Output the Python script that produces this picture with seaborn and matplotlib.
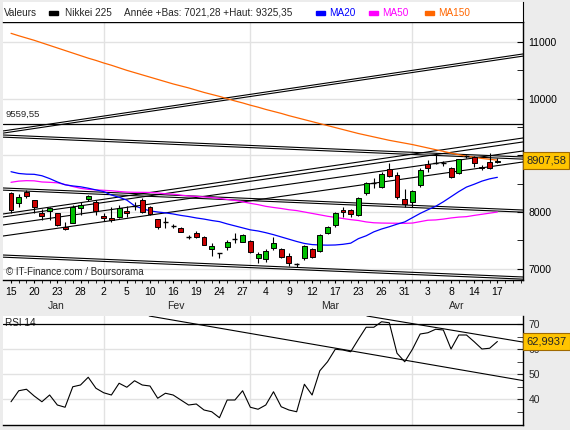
import matplotlib
matplotlib.use("Agg")
import matplotlib.pyplot as plt  # noqa: E402
import matplotlib.transforms as mtransforms  # noqa: E402
from matplotlib.patches import Rectangle  # noqa: E402
import pandas as pd  # noqa: E402
import seaborn as sns  # noqa: E402

# --- données (Nikkei 225, 2009) ---
dates = (["2009-01-%02d" % d for d in [15, 16, 19, 20, 21, 22, 23, 26, 27, 28, 29, 30]]
         + ["2009-02-%02d" % d for d in [2, 3, 4, 5, 6, 9, 10, 12, 13, 16, 17, 18, 19, 20,
                                         23, 24, 25, 26, 27]]
         + ["2009-03-%02d" % d for d in [2, 3, 4, 5, 6, 9, 10, 11, 12, 13, 16, 17, 18, 19,
                                         23, 24, 25, 26, 27, 30, 31]]
         + ["2009-04-%02d" % d for d in [1, 2, 3, 6, 7, 8, 9, 10, 14, 15, 16, 17]])
month_names = {1: "Jan", 2: "Fev", 3: "Mar", 4: "Avr"}

opens = [8330, 8160, 8350, 8210, 7977, 8018, 7980, 7740, 7806, 8070, 8229, 8182, 7935, 7900,
         7917, 8018, 8095, 8212, 8083, 7870, 7810, 7752, 7712, 7562, 7624, 7565, 7342, 7280,
         7388, 7515, 7476, 7488, 7194, 7165, 7359, 7341, 7223, 7075, 7183, 7347, 7318, 7635,
         7770, 8035, 8035, 7947, 8341, 8514, 8447, 8753, 8653, 8224, 8182, 8476, 8847, 8867,
         8870, 8776, 8683, 8985, 8965, 8800, 8877, 8877]
highs = [8345, 8320, 8380, 8215, 8050, 8090, 7990, 7830, 8125, 8180, 8300, 8210, 7990, 8090,
         8130, 8100, 8180, 8250, 8100, 7880, 7910, 7790, 7740, 7600, 7660, 7575, 7455, 7285,
         7505, 7630, 7620, 7500, 7300, 7345, 7565, 7360, 7280, 7105, 7420, 7360, 7620, 7750,
         8000, 8085, 8060, 8270, 8530, 8600, 8700, 8860, 8700, 8400, 8390, 8770, 8918, 9040,
         8900, 8800, 8940, 9010, 8990, 8830, 9050, 8950]
lows = [7990, 8090, 8250, 7990, 7860, 7860, 7750, 7680, 7800, 7950, 8200, 7950, 7850, 7830,
        7900, 7920, 8035, 7990, 7940, 7700, 7720, 7720, 7640, 7530, 7540, 7410, 7225, 7190,
        7330, 7455, 7470, 7280, 7105, 7120, 7330, 7180, 7050, 7021, 7160, 7190, 7300, 7620,
        7740, 7920, 7910, 7930, 8300, 8425, 8420, 8620, 8230, 8094, 8090, 8450, 8712, 8847,
        8820, 8600, 8670, 8950, 8800, 8740, 8760, 8860]
closes = [8035, 8262, 8282, 8088, 7930, 8070, 7770, 7694, 8088, 8123, 8282, 8023, 7888, 7860,
          8070, 7977, 8100, 8006, 7965, 7730, 7815, 7750, 7653, 7567, 7565, 7418, 7400, 7282,
          7476, 7518, 7594, 7300, 7253, 7318, 7447, 7200, 7105, 7077, 7400, 7212, 7594, 7730,
          7988, 7995, 7959, 8241, 8506, 8517, 8665, 8641, 8259, 8141, 8370, 8741, 8771, 8870,
          8872, 8618, 8930, 8988, 8860, 8770, 8771, 8907.58]

ma20 = [8711, 8680, 8668, 8665, 8640, 8590, 8530, 8480, 8460, 8445, 8420, 8390, 8360, 8300,
        8260, 8210, 8110, 8060, 8020, 8000, 7985, 7965, 7940, 7920, 7895, 7875, 7850, 7830,
        7790, 7755, 7720, 7685, 7665, 7635, 7600, 7560, 7520, 7480, 7445, 7425, 7418, 7415,
        7418, 7430, 7450, 7530, 7580, 7650, 7700, 7740, 7785, 7825, 7900, 7975, 8040, 8100,
        8180, 8270, 8360, 8440, 8490, 8545, 8585, 8612]
ma50 = [8524, 8545, 8553, 8550, 8530, 8524, 8515, 8485, 8450, 8418, 8400, 8390, 8383, 8375,
        8362, 8352, 8348, 8347, 8345, 8335, 8322, 8315, 8298, 8283, 8275, 8265, 8255, 8240,
        8222, 8205, 8180, 8153, 8130, 8100, 8080, 8062, 8040, 8025, 8000, 7975, 7950, 7925,
        7905, 7885, 7865, 7850, 7825, 7810, 7805, 7803, 7802, 7800, 7805, 7830, 7855, 7860,
        7875, 7895, 7910, 7918, 7940, 7960, 7980, 8000]
ma150 = [11153, 11110, 11070, 11030, 10985, 10940, 10895, 10850, 10805, 10760, 10715, 10675,
         10630, 10590, 10545, 10500, 10460, 10420, 10380, 10340, 10300, 10260, 10225, 10190,
         10150, 10110, 10075, 10040, 10000, 9960, 9925, 9885, 9850, 9810, 9775, 9740, 9700,
         9665, 9630, 9595, 9560, 9525, 9490, 9455, 9420, 9385, 9355, 9325, 9295, 9265, 9240,
         9215, 9190, 9160, 9130, 9100, 9070, 9040, 9010, 8985, 8965, 8945, 8930, 8915]
rsi14 = [38.9, 43.3, 43.9, 41.2, 38.9, 41.6, 37.6, 36.7, 44.9, 45.6,
         48.7, 44.3, 42.5, 41.6, 46.3, 44.7, 47.3, 45.6, 45.2, 40.3,
         42.3, 41.6, 39.6, 37.6, 38.0, 35.6, 34.9, 32.5, 39.6, 39.6,
         43.3, 36.7, 35.9, 37.6, 42.9, 36.9, 35.6, 34.9, 45.9, 41.6,
         51.3, 54.9, 59.9, 59.6, 58.9, 63.9, 68.7, 68.7, 70.9, 70.5,
         58.3, 54.9, 59.9, 66.0, 66.5, 67.9, 67.6, 60.0, 65.6, 65.6,
         62.9, 60.0, 60.3, 62.9937]

year_low, year_high = 7021.28, 9325.35
resistance = 9559.55
# droites tracées à la main : niveaux (début, fin) sur toute la largeur
trend_x = [-1.04, 66.32]
trend_double = [(9430, 10789), (9359, 8971), (8424, 8035), (7241, 6853)]
trend_single = [(7965, 9306), (7912, 9236), (7771, 9077), (7576, 8883)]
rsi_trend = [((17.9, 73.2), (66.45, 47.3)), ((46.1, 73.2), (66.45, 62.7))]

GREEN, RED = "#00C000", "#CC0000"
BLUE, MAGENTA, ORANGE = "#0000FF", "#FF00FF", "#FF6600"
GRID = "#E2E2E2"
W, H = 570, 430


def fr(v, d):
    return f"{v:.{d}f}".replace(".", ",")


def box(x0, y0, x1, y1):
    return [x0 / W, 1 - y1 / H, (x1 - x0) / W, (y1 - y0) / H]


sns.set_style("white")
plt.rcParams["font.family"] = ["Liberation Sans", "DejaVu Sans"]

df = pd.DataFrame({"date": pd.to_datetime(dates), "open": opens, "high": highs,
                   "low": lows, "close": closes, "ma20": ma20, "ma50": ma50,
                   "ma150": ma150, "rsi": rsi14})
df["i"] = range(len(df))
months = df["date"].dt.month
month_starts = [i for i in range(1, len(df)) if months[i] != months[i - 1]]

fig = plt.figure(figsize=(5.7, 4.3), dpi=100, facecolor="#ECECEC")
ax = fig.add_axes(box(3, 22, 523, 280))
ax_top = fig.add_axes(box(3, 2, 523, 22))
ax_rsi = fig.add_axes(box(3, 316, 523, 425))
xlim = (-1.04, 66.32)

# --- bandeau légende ---
ax_top.set_facecolor("white")
ax_top.set_xticks([])
ax_top.set_yticks([])
for s in ax_top.spines.values():
    s.set_visible(False)
ax_top.spines["right"].set_visible(True)
ax_top.spines["right"].set_color("black")
yc = 1 - 12.5 / H
fs = 7.2
fig.text(4 / W, yc, "Valeurs", fontsize=fs, va="center")
fig.text(65 / W, yc, "Nikkei 225", fontsize=fs, va="center")
fig.text(124 / W, yc, f"Année +Bas: {fr(year_low, 2)} +Haut: {fr(year_high, 2)}",
         fontsize=fs, va="center")
for x0, col, lab in [(49, "black", None), (316, BLUE, "MA20"), (369, MAGENTA, "MA50"),
                     (425, ORANGE, "MA150")]:
    fig.patches.append(Rectangle((x0 / W, 1 - 14.5 / H), 9 / W, 4 / H, color=col,
                                 transform=fig.transFigure, figure=fig))
    if lab:
        fig.text((x0 + 13) / W, yc, lab, fontsize=fs, va="center", color=col)

# --- panneau principal ---
ax.set_facecolor("white")
ax.set_xlim(*xlim)
ax.set_ylim(6800, 11353)
for m in month_starts:
    ax.axvline(m, color=GRID, lw=1, zorder=0)
    ax_rsi.axvline(m, color=GRID, lw=1, zorder=0)
for lv in [7000, 8000, 9000, 10000, 11000]:
    ax.axhline(lv, color=GRID, lw=1, zorder=0)

off = 38
for a, b in trend_double:
    ax.plot(trend_x, [a, b], color="black", lw=0.8, zorder=1)
    ax.plot(trend_x, [a - off, b - off], color="black", lw=0.8, zorder=1)
for a, b in trend_single:
    ax.plot(trend_x, [a, b], color="black", lw=0.8, zorder=1)
ax.axhline(resistance, color="black", lw=0.9, zorder=1)
ax.text(0.004, resistance + 90, fr(resistance, 2), transform=mtransforms.blended_transform_factory(
    ax.transAxes, ax.transData), fontsize=6.8, va="bottom")

sns.lineplot(data=df, x="i", y="ma150", ax=ax, color=ORANGE, lw=0.9, zorder=2)
sns.lineplot(data=df, x="i", y="ma50", ax=ax, color=MAGENTA, lw=0.9, zorder=2)
sns.lineplot(data=df, x="i", y="ma20", ax=ax, color=BLUE, lw=0.9, zorder=2)

for r in df.itertuples():
    ax.vlines(r.i, r.low, r.high, color="black", lw=0.8, zorder=3)
    if abs(r.close - r.open) < 10:
        ax.hlines(r.close, r.i - 0.33, r.i + 0.33, color="black", lw=1.0, zorder=4)
    else:
        ax.bar(r.i, abs(r.close - r.open), bottom=min(r.open, r.close), width=0.64,
               color=GREEN if r.close > r.open else RED, edgecolor="black", lw=0.7, zorder=4)

ax.set_xlabel("")
ax.set_ylabel("")
ax.spines["left"].set_visible(False)
for s in ["top", "right", "bottom"]:
    ax.spines[s].set_color("black")
    ax.spines[s].set_linewidth(1)
ax.yaxis.tick_right()
ax.set_yticks([7000, 8000, 9000, 10000, 11000])
# le libellé 9000 est caché par l'étiquette du dernier cours
ax.set_yticklabels(["7000", "8000", "", "10000", "11000"])
ax.set_yticks([7500, 8500, 9500, 10500], minor=True)
ax.tick_params(axis="y", which="both", direction="in", right=True, left=False,
               labelright=True, labelleft=False, length=4, pad=4, labelsize=7.5, colors="black")
tick_idx = list(range(0, len(df), 3))
ax.set_xticks(tick_idx)
ax.set_xticklabels([str(df["date"][i].day) for i in tick_idx])
ax.set_xticks(range(0, 67), minor=True)
ax.tick_params(axis="x", which="both", direction="out", length=2.5, pad=2.5,
               labelsize=7.5, bottom=True, colors="black")
xt = mtransforms.blended_transform_factory(ax.transData, ax.transAxes)
for m in months.unique():
    idx = df["i"][months == m]
    ax.text(idx.mean() + 0.3, -0.101, month_names[m], transform=xt, fontsize=7.5,
            ha="center", va="center")
ax.text(0.006, 0.012, "© IT-Finance.com / Boursorama", transform=ax.transAxes,
        fontsize=7, va="bottom", zorder=6)
yt = mtransforms.blended_transform_factory(ax.transAxes, ax.transData)
ax.text(1.006, closes[-1], fr(closes[-1], 2), transform=yt, fontsize=8, va="center",
        ha="left", zorder=8, clip_on=False,
        bbox=dict(boxstyle="square,pad=0.3", fc="#FFC400", ec="#A06A00", lw=0.8))

# --- panneau RSI ---
ax_rsi.set_facecolor("white")
ax_rsi.set_xlim(*xlim)
ax_rsi.set_ylim(29.6, 73.2)
for lv in [40, 50, 60]:
    ax_rsi.axhline(lv, color=GRID, lw=1, zorder=0)
ax_rsi.text(0.004, 0.936, "RSI 14", transform=ax_rsi.transAxes, fontsize=7.2,
            va="center", zorder=1)
ax_rsi.axhline(70, color="black", lw=0.9, zorder=2)
for (x0, y0), (x1, y1) in rsi_trend:
    ax_rsi.plot([x0, x1], [y0, y1], color="black", lw=0.8, zorder=2)
sns.lineplot(data=df, x="i", y="rsi", ax=ax_rsi, color="black", lw=0.8, zorder=3)
ax_rsi.set_xlabel("")
ax_rsi.set_ylabel("")
ax_rsi.spines["left"].set_visible(False)
ax_rsi.spines["top"].set_visible(False)
for s in ["right", "bottom"]:
    ax_rsi.spines[s].set_color("black")
    ax_rsi.spines[s].set_linewidth(1)
ax_rsi.yaxis.tick_right()
ax_rsi.set_yticks([40, 50, 60, 70])
ax_rsi.set_yticks([35, 45, 55, 65], minor=True)
ax_rsi.tick_params(axis="y", which="both", direction="in", right=True, left=False,
                   labelright=True, labelleft=False, length=4, pad=4, labelsize=7.5)
ax_rsi.tick_params(axis="x", which="both", bottom=False, labelbottom=False)
ryt = mtransforms.blended_transform_factory(ax_rsi.transAxes, ax_rsi.transData)
ax_rsi.text(1.006, rsi14[-1], fr(rsi14[-1], 4), transform=ryt, fontsize=8, va="center",
            ha="left", zorder=8, clip_on=False,
            bbox=dict(boxstyle="square,pad=0.3", fc="#FFC400", ec="#A06A00", lw=0.8))

fig.savefig("out.png", dpi=100, facecolor=fig.get_facecolor())
